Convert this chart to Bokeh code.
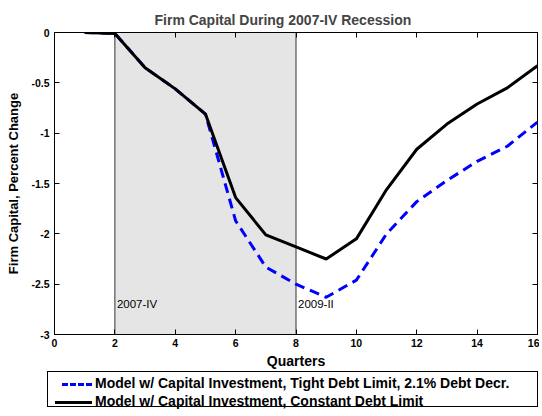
from bokeh.plotting import figure
from bokeh.layouts import column
from bokeh.models import (LinearAxis, BoxAnnotation, Span, Label, Div,
                          FixedTicker, Range1d, Title)
from bokeh.embed import file_html
from bokeh.resources import INLINE

# ---- data ----
quarters = [1, 2, 3, 4, 5, 6, 7, 8, 9, 10, 11, 12, 13, 14, 15, 16]
tight_debt = [0.0, -0.01, -0.35, -0.56, -0.81, -1.87, -2.33, -2.50, -2.63, -2.46,
              -2.00, -1.68, -1.47, -1.28, -1.13, -0.89]
constant_debt = [0.0, -0.01, -0.35, -0.56, -0.81, -1.64, -2.01, -2.13, -2.25, -2.05,
                 -1.56, -1.16, -0.91, -0.71, -0.55, -0.33]
recession_start, recession_end = 2, 8
recession_labels = ["2007-IV", "2009-II"]
x_ticks = [0, 2, 4, 6, 8, 10, 12, 14, 16]
y_ticks = [0, -0.5, -1, -1.5, -2, -2.5, -3]
y_tick_labels = ["0", "-0.5", "-1", "-1.5", "-2", "-2.5", "-3"]
series_names = ["Model w/ Capital Investment, Tight Debt Limit, 2.1% Debt Decr.",
                "Model w/ Capital Investment, Constant Debt Limit"]

FONT = "Liberation Sans"
BLUE_STYLE = dict(line_color="#0000ff", line_width=3, line_dash="10 6")
BLACK_STYLE = dict(line_color="black", line_width=3)

p = figure(width=539, height=371, output_backend="svg", toolbar_location=None,
           x_range=Range1d(0, 16), y_range=Range1d(-3, 0),
           min_border_left=54, min_border_right=2, min_border_top=32, min_border_bottom=36)
p.title = Title(text="Firm Capital During 2007-IV Recession", align="left",
                text_font=FONT, text_font_size="14px", text_font_style="bold",
                offset=100, standoff=9)
p.grid.visible = False
p.outline_line_color = "black"
p.outline_line_width = 1
p.background_fill_color = "white"
p.border_fill_color = "white"

# recession shading
p.add_layout(BoxAnnotation(left=recession_start, right=recession_end,
                           fill_color="#e5e5e5", fill_alpha=1.0, line_alpha=0, level="underlay"))
for xv in (recession_start, recession_end):
    p.add_layout(Span(location=xv, dimension="height", line_color="#333333", line_width=1,
                      level="underlay"))
for xv, txt in zip((recession_start, recession_end), recession_labels):
    p.add_layout(Label(x=xv, y=-2.70, text=txt, x_offset=2, text_baseline="middle",
                       text_font=FONT, text_font_size="11.5px", text_color="black"))

r_blue = p.line(quarters, tight_debt, **BLUE_STYLE)
r_black = p.line(quarters, constant_debt, **BLACK_STYLE)

# axes styling
def style_axis(ax, labels=True):
    ax.major_tick_in = 5
    ax.major_tick_out = 0
    ax.minor_tick_in = 0
    ax.minor_tick_out = 0
    ax.axis_line_color = "black"
    ax.major_tick_line_color = "black"
    if labels:
        ax.major_label_text_font = FONT
        ax.major_label_text_font_size = "10.5px"
        ax.major_label_text_font_style = "bold"
        ax.major_label_text_color = "black"
        ax.axis_label_text_font = FONT
        ax.axis_label_text_font_style = "bold"
        ax.axis_label_text_color = "black"

xa = p.xaxis[0]
ya = p.yaxis[0]
xa.ticker = FixedTicker(ticks=x_ticks)
ya.ticker = FixedTicker(ticks=y_ticks)
ya.major_label_overrides = {float(t): l for t, l in zip(y_ticks, y_tick_labels)}
xa.axis_label = "Quarters"
ya.axis_label = "Firm Capital, Percent Change"
style_axis(xa)
style_axis(ya)
xa.axis_label_text_font_size = "14px"
ya.axis_label_text_font_size = "13px"
xa.major_label_standoff = 4
xa.axis_label_standoff = 3
ya.major_label_standoff = 5
ya.axis_label_standoff = 7

top = LinearAxis(ticker=FixedTicker(ticks=x_ticks))
top.major_label_overrides = {float(t): "" for t in x_ticks}
right = LinearAxis(ticker=FixedTicker(ticks=y_ticks))
right.major_label_overrides = {float(t): "" for t in y_ticks}
style_axis(top, labels=False)
style_axis(right, labels=False)
top.major_label_standoff = 0
right.major_label_standoff = 0
p.add_layout(top, "above")
p.add_layout(right, "right")

# legend as an HTML box below the plot (outside the axes, as in the original)
row_style = "white-space:nowrap;height:18px;line-height:18px;"
swatch_blue = ("display:inline-block;width:30px;margin-left:14px;margin-right:3px;"
               "border-top:3px dashed #0000ff;vertical-align:middle;")
swatch_black = ("display:inline-block;width:37px;margin-left:7px;margin-right:3px;"
                "border-top:3px solid black;vertical-align:middle;")
legend_html = (
    f'<div style="margin:0 0 0 47px;width:491px;height:36px;padding:2px 0 2px 0;'
    f'border:1px solid black;background:white;color:black;'
    f"font-family:'{FONT}';font-weight:bold;font-size:14px;\">"
    f'<div style="{row_style}"><span style="{swatch_blue}"></span>{series_names[0]}</div>'
    f'<div style="{row_style}"><span style="{swatch_black}"></span>{series_names[1]}</div>'
    f'</div>'
)
legend_div = Div(text=legend_html, width=541, height=43, margin=0)

layout = column(p, legend_div, spacing=0)
open("out.html", "w").write(file_html(layout, INLINE))
